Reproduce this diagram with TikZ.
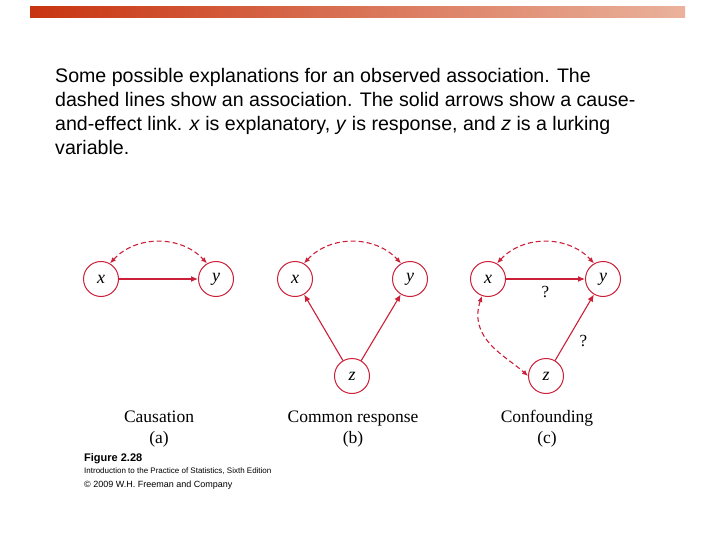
\documentclass[tikz,border=0pt]{standalone}
\usepackage{fontspec}
\setmainfont{Liberation Serif}
\setsansfont{Liberation Sans}
\usepackage{tikz}
\usetikzlibrary{calc,arrows.meta}
\definecolor{arrowred}{RGB}{204,32,56}
\definecolor{bandleft}{RGB}{200,52,16}
\definecolor{bandright}{RGB}{234,178,156}
\tikzset{
  var/.style={draw=arrowred,line width=1pt,circle,fill=white,minimum size=35pt,inner sep=0pt,font=\fontsize{18}{18}\selectfont\itshape},
  cause/.style={draw=arrowred,line width=1.1pt,-{Latex[length=7pt,width=6pt]}},
  assoc/.style={draw=arrowred,line width=1.1pt,dash pattern=on 5pt off 3pt,{Latex[length=6pt,width=5pt]}-{Latex[length=6pt,width=5pt]}},
  caption/.style={align=center,font=\fontsize{17.5}{21}\selectfont},
  mark label/.style={font=\fontsize{17}{17}\selectfont}
}
\newcommand{\tikzPanel}[2]{
  \node [var] (#1x) at (#2, 279) {x};
  \node [var] (#1y) at ($(#2,279)+(115,0)$) {y};
  \path [assoc] (#1x.60) .. controls ($(#1x)+(35,-44)$) and ($(#1y)+(-35,-44)$) .. (#1y.120);
}

\begin{document}
\begin{tikzpicture}[x=1pt, y=-1pt]
  \useasboundingbox (0,0) rectangle (720,540);
  \shade [left color=bandleft, right color=bandright] (30,7) rectangle (685,18);

  \node [anchor=north west, align=left, inner sep=0pt, font=\sffamily\fontsize{19.6}{24}\selectfont] (intro) at (55,68)
    {Some possible explanations for an observed association. The\\
     dashed lines show an association. The solid arrows show a cause-\\
     and-effect link. \textit{x} is explanatory, \textit{y} is response, and \textit{z} is a lurking\\
     variable.};

  % (a) causation
  \tikzPanel{a}{101}
  \path [cause] (ax) -- (ay);
  \node [caption] (capa) at (159,428.5) {Causation\strut\\(a)\strut};

  % (b) common response
  \tikzPanel{b}{295}
  \node [var] (bz) at (352,376) {z};
  \path [cause] (bz) -- (bx);
  \path [cause] (bz) -- (by);
  \node [caption] (capb) at (353,428.5) {Common response\strut\\(b)\strut};

  % (c) confounding
  \tikzPanel{c}{488}
  \node [var] (cz) at (546,376) {z};
  \path [cause] (cx) -- node [below=3pt, mark label] (qxy) {?} (cy);
  \path [cause] (cz) -- node [right=9pt, pos=0.3, mark label] (qzy) {?} (cy);
  \path [assoc] (cx.250) .. controls ($(cx)+(-20,60)$) and ($(cz)+(-40,-20)$) .. (cz.west);
  \node [caption] (capc) at (547,428.5) {Confounding\strut\\(c)\strut};

  \node [anchor=north west, inner sep=0pt, font=\sffamily\bfseries\fontsize{11}{11}\selectfont] (fig) at (84,453) {Figure 2.28};
  \node [anchor=north west, inner sep=0pt, font=\sffamily\fontsize{8}{8}\selectfont] (book) at (84,468) {Introduction to the Practice of Statistics, Sixth Edition};
  \node [anchor=north west, inner sep=0pt, font=\sffamily\fontsize{9}{9}\selectfont] (copy) at (84,481) {\textcopyright{} 2009 W.H. Freeman and Company};
\end{tikzpicture}
\end{document}
